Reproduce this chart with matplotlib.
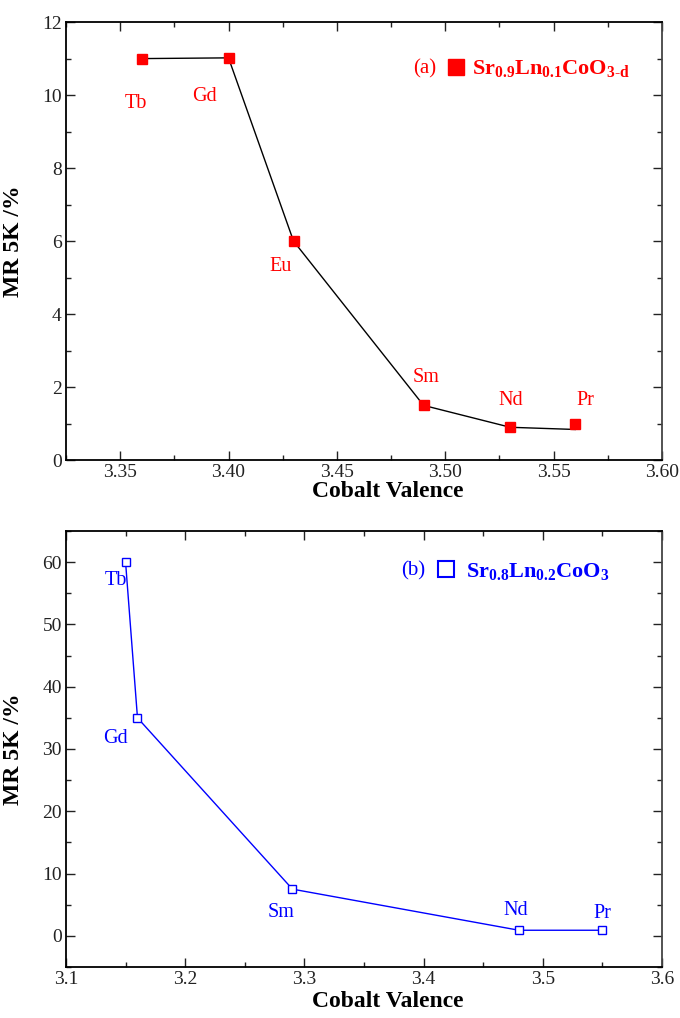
import matplotlib
matplotlib.use('Agg')
import matplotlib.pyplot as plt
from matplotlib.lines import Line2D
from matplotlib.ticker import MultipleLocator

####################################################
# Data
####################################################
# (a) Sr0.9Ln0.1CoO3-d
ln_a      = ['Tb', 'Gd', 'Eu', 'Sm', 'Nd', 'Pr']
valence_a = [3.36, 3.40, 3.43, 3.49, 3.53, 3.56]
mr_a      = [11.0, 11.02, 6.0, 1.5, 0.9, 1.0]
mr_a_line = [11.0, 11.02, 6.0, 1.5, 0.9, 0.84]   # guide line as drawn in the original

# (b) Sr0.8Ln0.2CoO3
ln_b      = ['Tb', 'Gd', 'Sm', 'Nd', 'Pr']
valence_b = [3.15, 3.16, 3.29, 3.48, 3.55]
mr_b      = [60.0, 35.0, 7.5, 0.9, 0.9]

####################################################
# Style
####################################################
plt.rcParams['font.family'] = ['Liberation Serif', 'DejaVu Serif']
plt.rcParams['mathtext.fontset'] = 'custom'
plt.rcParams['mathtext.rm'] = 'Liberation Serif'
plt.rcParams['mathtext.bf'] = 'Liberation Serif:bold'

# label offsets (points) from each marker
offs_a = [(-4, -32), (-17, -28), (-9, -18), (2, 20), (0, 19), (7, 17)]
offs_b = [(-7, -13), (-16, -15), (-8, -17), (-2, 14), (0, 12)]


def style_axes(ax):
    ax.tick_params(which='both', direction='in', top=True, right=True,
                   labelsize=14, pad=3, colors='#222222')
    ax.tick_params(which='major', length=6.5, width=1)
    ax.tick_params(which='minor', length=3.5, width=1)
    for s in ax.spines.values():
        s.set_linewidth(1.3)
    ax.spines['right'].set_color('#444444')
    ax.set_xlabel('Cobalt Valence', fontsize=17, fontweight='bold')
    ax.set_ylabel('MR 5K /%', fontsize=17, fontweight='bold')
    ax.yaxis.set_label_coords(-0.07, 0.5)


fig = plt.figure(figsize=(6.8, 10.18), dpi=100)

####################################################
# Panel (a)
####################################################
ax1 = fig.add_axes([0.097, 0.548, 0.8765, 0.4303])
ax1.plot(valence_a, mr_a_line, color='black', lw=1)
ax1.plot(valence_a, mr_a, ls='none', marker='s', ms=6.5, color='red')
for name, x, y, d in zip(ln_a, valence_a, mr_a, offs_a):
    ax1.annotate(name, (x, y), xytext=d, textcoords='offset points',
                 ha='center', va='center', fontsize=14.5, color='red')

ax1.set_xlim(3.325, 3.60)
ax1.set_ylim(0, 12)
ax1.xaxis.set_major_locator(MultipleLocator(0.05))
ax1.xaxis.set_minor_locator(MultipleLocator(0.025))
ax1.yaxis.set_major_locator(MultipleLocator(2))
ax1.yaxis.set_minor_locator(MultipleLocator(1))
ax1.xaxis.set_major_formatter(lambda v, p: f'{v:.2f}')
style_axes(ax1)
ax1.xaxis.set_label_coords(0.54, -0.048)

ax1.text(0.582, 0.893, '(a)', transform=ax1.transAxes, fontsize=15,
         color='red', va='center', ha='left')
h1 = Line2D([], [], ls='none', marker='s', ms=11, color='red')
leg1 = ax1.legend([h1], [r'$\mathbf{Sr_{0.9}Ln_{0.1}CoO_{3\text{-}d}}$'],
                  loc='center left', bbox_to_anchor=(0.637, 0.893),
                  frameon=False, handlelength=0.95, handletextpad=0.25,
                  borderpad=0, borderaxespad=0, fontsize=16, labelcolor='red')

####################################################
# Panel (b)
####################################################
ax2 = fig.add_axes([0.097, 0.0501, 0.8765, 0.4283])
ax2.plot(valence_b, mr_b, color='blue', lw=1, marker='s', ms=6,
         mfc='white', mec='blue', mew=1)
for name, x, y, d in zip(ln_b, valence_b, mr_b, offs_b):
    ax2.annotate(name, (x, y), xytext=d, textcoords='offset points',
                 ha='center', va='center', fontsize=14.5, color='blue')

ax2.set_xlim(3.1, 3.6)
ax2.set_ylim(-5, 65)
ax2.xaxis.set_major_locator(MultipleLocator(0.1))
ax2.xaxis.set_minor_locator(MultipleLocator(0.05))
ax2.yaxis.set_major_locator(MultipleLocator(10))
ax2.yaxis.set_minor_locator(MultipleLocator(5))
ax2.xaxis.set_major_formatter(lambda v, p: f'{v:.1f}')
style_axes(ax2)
ax2.xaxis.set_label_coords(0.54, -0.055)

ax2.text(0.563, 0.908, '(b)', transform=ax2.transAxes, fontsize=15,
         color='blue', va='center', ha='left')
h2 = Line2D([], [], ls='none', marker='s', ms=11, mfc='white', mec='blue', mew=1.5)
leg2 = ax2.legend([h2], [r'$\mathbf{Sr_{0.8}Ln_{0.2}CoO_3}$'],
                  loc='center left', bbox_to_anchor=(0.6205, 0.908),
                  frameon=False, handlelength=0.95, handletextpad=0.42,
                  borderpad=0, borderaxespad=0, fontsize=16, labelcolor='blue')

plt.savefig('out.png', dpi=100)
